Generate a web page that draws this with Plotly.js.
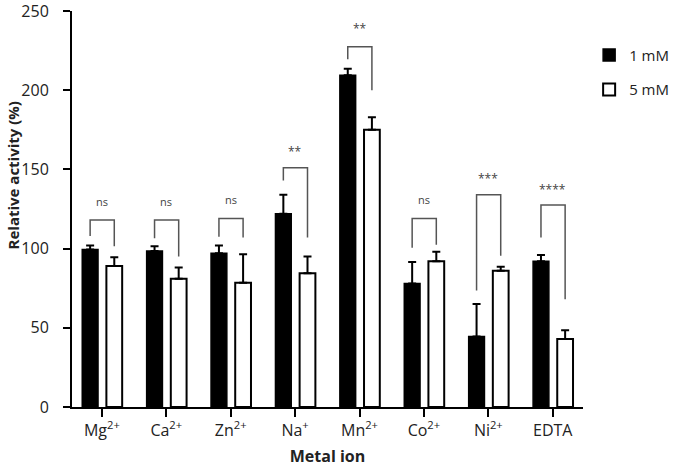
<!DOCTYPE html>
<html>
<head>
<meta charset="utf-8">
<script src="https://cdn.plot.ly/plotly-3.0.1.min.js"></script>
<style>
  html, body { margin: 0; padding: 0; background: #fff; }
  #chart { width: 685px; height: 467px; }
</style>
</head>
<body>
<div id="chart"></div>
<script>
// Relative activity of the enzyme with metal ions at 1 mM and 5 mM
const ions = ['Mg<sup>2+</sup>', 'Ca<sup>2+</sup>', 'Zn<sup>2+</sup>', 'Na<sup>+</sup>',
              'Mn<sup>2+</sup>', 'Co<sup>2+</sup>', 'Ni<sup>2+</sup>', 'EDTA'];
const act1mM = [99.5, 98.5, 97, 122, 209.5, 78, 44.5, 92];
const err1mM = [2.5, 3, 5, 12, 4, 13.5, 20.5, 4];
const act5mM = [89, 81, 78.5, 84.5, 175, 92, 86, 43];
const err5mM = [5.5, 7, 18, 10.5, 8, 6, 2.5, 5.5];

// significance brackets: label, label height, bracket top, leg ends (left / right)
const sigLabel = ['ns', 'ns', 'ns', '**', '**', 'ns', '***', '****'];
const sigY = [130, 130, 131, 161, 239, 131, 144.5, 137];
const bracketTop = [118, 118, 119, 151, 227.5, 119, 134, 127.5];
const legLeftEnd = [108, 106.5, 107.5, 143, 219.5, 100.5, 73.5, 107];
const legRightEnd = [101.5, 95, 107, 107, 200, 102.5, 95.5, 68];

const FONT = 'Open Sans, sans-serif';
const BAR_W = 0.245;
const OFF_1 = -0.305;
const OFF_5 = 0.07;

const idx = ions.map((_, i) => i);

const errStyle = (arr) => ({
  type: 'data', array: arr, arrayminus: arr.map(() => 0), symmetric: false,
  color: '#000', thickness: 2, width: 4,
});

const traces = [
  { type: 'bar', name: '1 mM', x: idx, y: act1mM, width: BAR_W, offset: OFF_1,
    marker: { color: '#000', line: { color: '#000', width: 1.5 } },
    error_y: errStyle(err1mM), legendgroup: 'a' },
  { type: 'bar', name: '5 mM', x: idx, y: act5mM, width: BAR_W, offset: OFF_5,
    marker: { color: '#fff', line: { color: '#000', width: 2 } },
    error_y: errStyle(err5mM), legendgroup: 'b' },
];

const shapes = idx.map((i) => {
  const xl = i + OFF_1 + BAR_W / 2;
  const xr = i + OFF_5 + BAR_W / 2;
  return {
    type: 'path', xref: 'x', yref: 'y',
    path: `M${xl},${legLeftEnd[i]} L${xl},${bracketTop[i]} L${xr},${bracketTop[i]} L${xr},${legRightEnd[i]}`,
    line: { color: '#555', width: 1.5 },
  };
});

const annotations = idx.map((i) => ({
  x: i, y: sigY[i], xref: 'x', yref: 'y', text: sigLabel[i], showarrow: false,
  font: { family: FONT, size: sigLabel[i] === 'ns' ? 11 : 12, color: '#444' },
  yanchor: 'middle',
}));
annotations.push({
  xref: 'paper', yref: 'paper', x: -0.116, y: 0.584, xanchor: 'center', yanchor: 'middle',
  textangle: -90, text: '<b>Relative activity (%)</b>', showarrow: false,
  font: { family: FONT, size: 15, color: '#222' },
});

const layout = {
  width: 685, height: 467,
  paper_bgcolor: '#fff', plot_bgcolor: '#fff',
  font: { family: FONT, color: '#222' },
  margin: { t: 11, r: 78, b: 60, l: 72 },
  showlegend: true,
  bargap: 0,
  xaxis: {
    type: 'linear', range: [-0.464, 7.47], tickvals: idx, ticktext: ions,
    showline: true, linecolor: '#000', linewidth: 2, ticks: 'outside', ticklen: 8,
    tickwidth: 2, tickcolor: '#000', showgrid: false, zeroline: false,
    tickfont: { family: FONT, size: 16, color: '#222' },
    title: { text: '<b>Metal ion</b>', font: { family: FONT, size: 16, color: '#222' }, standoff: 15 },
  },
  yaxis: {
    range: [0, 250], dtick: 50, showline: true, linecolor: '#000', linewidth: 2,
    ticks: 'outside', ticklen: 7, tickwidth: 2, tickcolor: '#000',
    showgrid: false, zeroline: false, ticklabelstandoff: 11, ticklabeloverflow: 'allow',
    tickfont: { family: FONT, size: 16, color: '#222' },
  },
  legend: {
    x: 1.012, xanchor: 'left', y: 0.93, yanchor: 'top',
    traceorder: 'grouped', tracegroupgap: 12, borderwidth: 0,
    font: { family: FONT, size: 15, color: '#222' },
    bgcolor: 'rgba(0,0,0,0)',
  },
  shapes: shapes,
  annotations: annotations,
};

Plotly.newPlot('chart', traces, layout, { displayModeBar: false, staticPlot: true });
</script>
</body>
</html>
